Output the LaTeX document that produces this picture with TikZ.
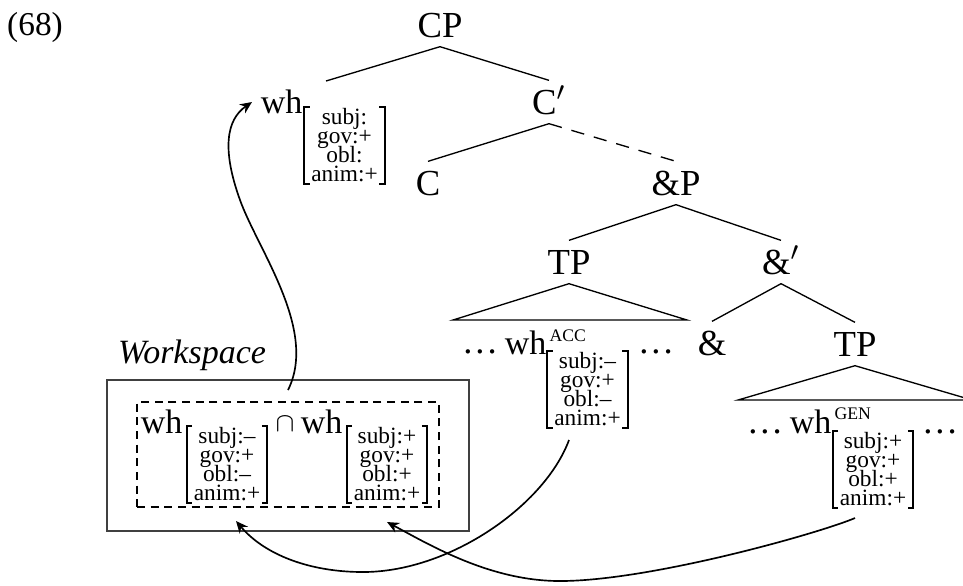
\documentclass[tikz,border=0pt]{standalone}
\usepackage{fontspec}
\setmainfont{Liberation Serif}
\usetikzlibrary{arrows.meta}
\newcommand{\tightlines}{\lineskiplimit=-20pt\relax\lineskip=0pt\relax}
\begin{document}
\begin{tikzpicture}[x=0.3pt,y=-0.3pt,
  tn/.style={font=\fontsize{11}{13}\selectfont, inner xsep=1pt, inner ysep=0pt, text height=9.95pt, text depth=2.65pt},
  edge/.style={line width=0.4pt},
  feat/.style={font=\fontsize{7}{5.7}\selectfont, execute at begin node=\tightlines, align=center, inner sep=0pt, minimum width=23.7pt, minimum height=22.5pt},
  brk/.style={line width=0.6pt},
  whn/.style={font=\fontsize{10.2}{12}\selectfont, inner sep=0pt, anchor=base east},
  scn/.style={font=\fontsize{5.3}{6}\selectfont, inner sep=0pt, anchor=base west},
  dotn/.style={font=\fontsize{11}{12}\selectfont, inner sep=0pt, anchor=base},
  mv/.style={line width=0.5pt, -{Stealth[length=3.6pt,width=3.2pt]}},
]
\useasboundingbox (0,0) rectangle (963,585);

\node[font=\fontsize{10}{12}\selectfont, inner sep=0pt] (ex) at (35,27) {(68)};

% tree nodes
\node[tn] (CP) at (440,25) {CP};
\coordinate (whtop) at (326,81);
\node[tn] (Cb) at (549,102) {C$'$};
\node[tn] (C) at (428,183) {C};
\node[tn] (AP) at (676,183) {\&P};
\node[tn] (TP) at (569,262) {TP};
\node[tn] (Ab) at (781,262) {\&$'$};
\node[tn] (Am) at (712,343) {\&};
\node[tn] (TP2) at (855,344) {TP};

\coordinate (t1l) at (453,320);
\coordinate (t1r) at (687,320);
\coordinate (t2l) at (738,400);
\coordinate (t2r) at (972,400);

\draw[edge] (CP.south) -- (whtop);
\draw[edge] (CP.south) -- (Cb.north);
\draw[edge] (Cb.south) -- (C.north);
\draw[edge, dash pattern=on 4pt off 3pt] (Cb.south) -- (AP.north);
\draw[edge] (AP.south) -- (TP.north);
\draw[edge] (AP.south) -- (Ab.north);
\draw[edge] (TP.south) -- (t1l) -- (t1r) -- cycle;
\draw[edge] (Ab.south) -- (Am.north);
\draw[edge] (Ab.south) -- (TP2.north);
\draw[edge] (TP2.south) -- (t2l) -- (t2r) -- cycle;

% top wh
\node[whn] (whT) at (303,113) {wh};
\node[feat] (F0) at (344.5,145.5) {subj:\\gov:+\\obl:\\anim:+};

% ACC wh
\node[dotn] (d1) at (480,353) {.\kern0.9pt.\kern0.9pt.};
\node[whn] (whA) at (547,354) {wh};
\node[scn] (acc) at (549,341) {ACC};
\node[feat] (F1) at (587.5,389.5) {subj:–\\gov:+\\obl:–\\anim:+};
\node[dotn] (d2) at (656,353) {.\kern0.9pt.\kern0.9pt.};

% GEN wh
\node[dotn] (d3) at (765,433) {.\kern0.9pt.\kern0.9pt.};
\node[whn] (whG) at (832,433) {wh};
\node[scn] (gen) at (834,419) {GEN};
\node[feat] (F2) at (873,469.5) {subj:+\\gov:+\\obl:+\\anim:+};
\node[dotn] (d4) at (940,433) {.\kern0.9pt.\kern0.9pt.};

% workspace
\node[font=\fontsize{10.2}{12}\selectfont\itshape, inner sep=0pt] (wsl) at (192,355) {Workspace};
\node[draw=black!75, line width=0.6pt, minimum width=108.6pt, minimum height=45.3pt, inner sep=0pt] (wso) at (288,455.5) {};
\node[draw, line width=0.4pt, dash pattern=on 2.4pt off 1.7pt, minimum width=90.6pt, minimum height=31.5pt, inner sep=0pt] (wsi) at (288,454.5) {};
\node[whn] (wh1) at (183,433) {wh};
\node[feat] (W1) at (227,464.5) {subj:–\\gov:+\\obl:–\\anim:+};
\node[inner sep=0pt, anchor=base] (cap) at (285,431) {\fontsize{8.5}{9}\selectfont$\cap$};
\node[whn] (wh2) at (343,433) {wh};
\node[feat] (W2) at (387,464.5) {subj:+\\gov:+\\obl:+\\anim:+};

\foreach \n in {F0,F1,F2,W1,W2}{
  \draw[brk] ([xshift=1.6pt]\n.north west) -- (\n.north west) -- (\n.south west) -- ([xshift=1.6pt]\n.south west);
  \draw[brk] ([xshift=-1.6pt]\n.north east) -- (\n.north east) -- (\n.south east) -- ([xshift=-1.6pt]\n.south east);
}

% movement arrows
\coordinate (a1s) at (288,390);
\coordinate (a1e) at (252,102);
\coordinate (a2s) at (569,440);
\coordinate (a2e) at (236,521);
\coordinate (a3s) at (855,518);
\coordinate (a3e) at (387,522);

\draw[mv] (a1s) .. controls (318,330) and (258,250) .. (240,200) .. controls (222,150) and (226,120) .. (a1e);
\draw[mv] (a2s) .. controls (545,505) and (450,572) .. (363,572) .. controls (310,572) and (265,555) .. (a2e);
\draw[mv] (a3s) .. controls (820,533) and (650,581) .. (560,581) .. controls (490,581) and (430,545) .. (a3e);
\end{tikzpicture}
\end{document}
